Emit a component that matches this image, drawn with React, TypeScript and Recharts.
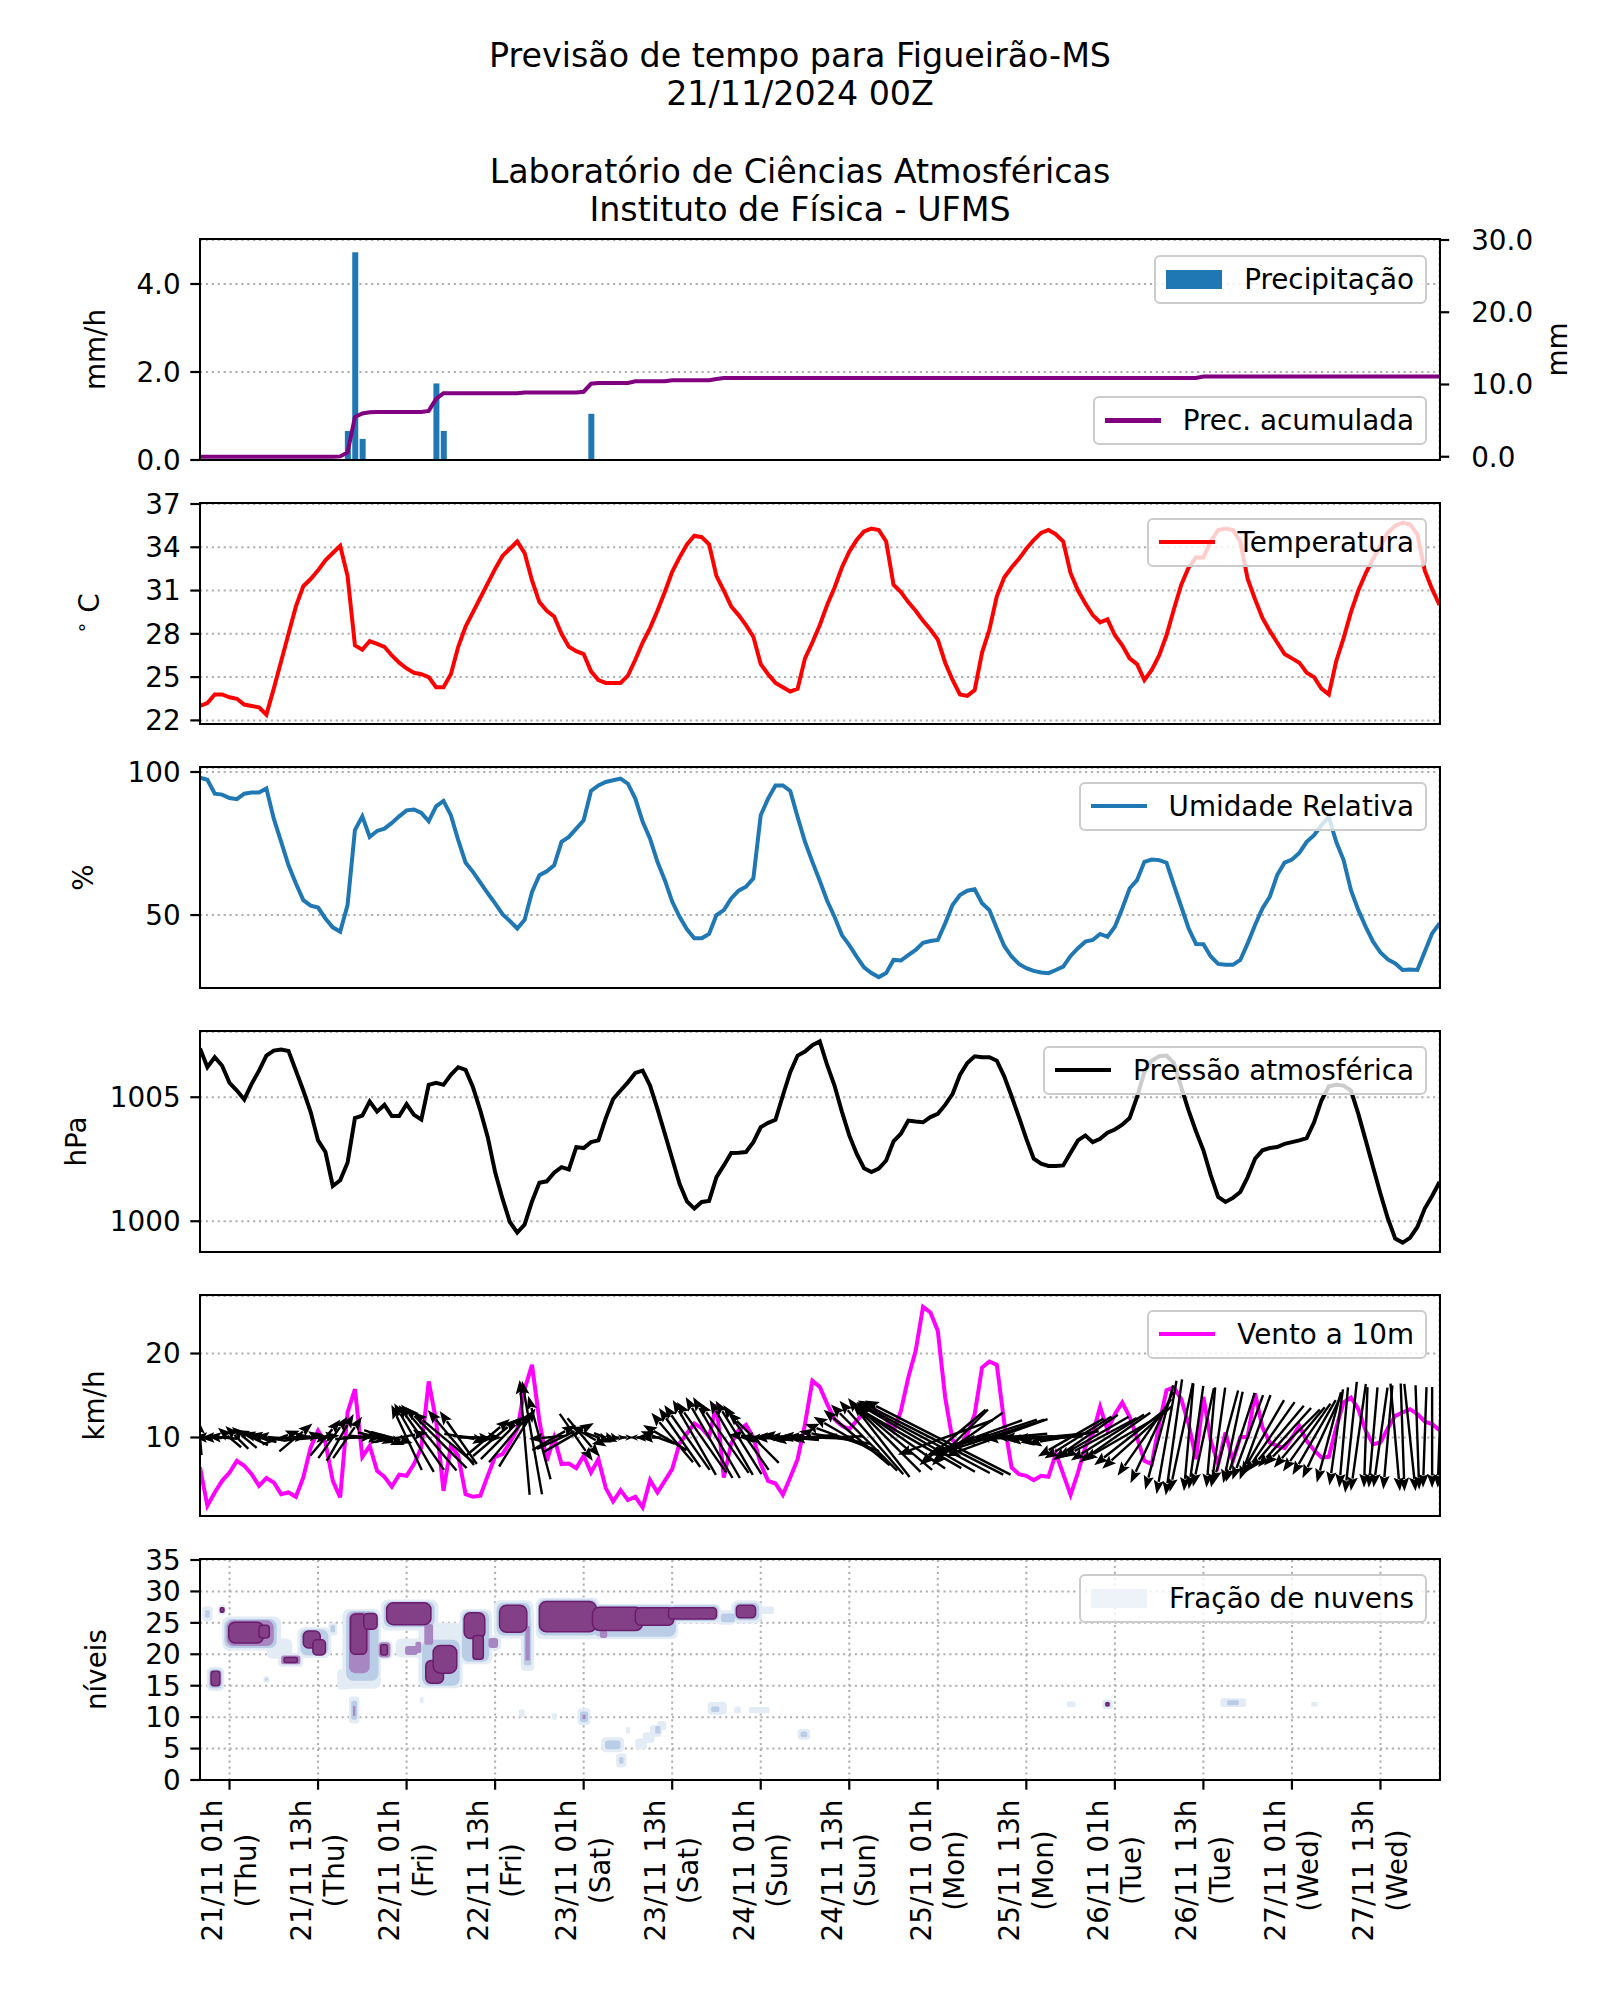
import React from 'react';
import {
  ComposedChart, Line, Bar, XAxis, YAxis, CartesianGrid, Scatter, ReferenceArea,
} from 'recharts';

// ---------------- DATA ----------------
const hours: number[] = Array.from({ length: 169 }, (_, i) => i);

const xTicks = [4, 16, 28, 40, 52, 64, 76, 88, 100, 112, 124, 136, 148, 160];
const xTickDates = [
  '21/11 01h', '21/11 13h', '22/11 01h', '22/11 13h', '23/11 01h', '23/11 13h', '24/11 01h',
  '24/11 13h', '25/11 01h', '25/11 13h', '26/11 01h', '26/11 13h', '27/11 01h', '27/11 13h',
];
const xTickDays = [
  '(Thu)', '(Thu)', '(Fri)', '(Fri)', '(Sat)', '(Sat)', '(Sun)',
  '(Sun)', '(Mon)', '(Mon)', '(Tue)', '(Tue)', '(Wed)', '(Wed)',
];

const precipHours = [20, 21, 22, 32, 33, 53];
const precipVals = [0.66, 4.72, 0.48, 1.74, 0.66, 1.05];

const acc = [
  0, 0, 0, 0, 0, 0, 0, 0, 0, 0,
  0, 0, 0, 0, 0, 0, 0, 0, 0, 0.05,
  0.6, 5.5, 6.0, 6.15, 6.2, 6.2, 6.2, 6.2, 6.2, 6.2,
  6.2, 6.35, 8.0, 8.8, 8.8, 8.8, 8.8, 8.8, 8.8, 8.8,
  8.8, 8.8, 8.8, 8.8, 8.9, 8.9, 8.9, 8.9, 8.9, 8.9,
  8.9, 8.9, 9.0, 10.1, 10.2, 10.2, 10.2, 10.2, 10.2, 10.45,
  10.45, 10.45, 10.45, 10.45, 10.6, 10.6, 10.6, 10.6, 10.6, 10.6,
  10.75, 10.9, 10.9, 10.9, 10.9, 10.9, 10.9, 10.9, 10.9, 10.9,
  10.9, 10.9, 10.9, 10.9, 10.9, 10.9, 10.9, 10.9, 10.9, 10.9,
  10.9, 10.9, 10.9, 10.9, 10.9, 10.9, 10.9, 10.9, 10.9, 10.9,
  10.9, 10.9, 10.9, 10.9, 10.9, 10.9, 10.9, 10.9, 10.9, 10.9,
  10.9, 10.9, 10.9, 10.9, 10.9, 10.9, 10.9, 10.9, 10.9, 10.9,
  10.9, 10.9, 10.9, 10.9, 10.9, 10.9, 10.9, 10.9, 10.9, 10.9,
  10.9, 10.9, 10.9, 10.9, 10.9, 10.9, 11.1, 11.1, 11.1, 11.1,
  11.1, 11.1, 11.1, 11.1, 11.1, 11.1, 11.1, 11.1, 11.1, 11.1,
  11.1, 11.1, 11.1, 11.1, 11.1, 11.1, 11.1, 11.1, 11.1, 11.1,
  11.1, 11.1, 11.1, 11.1, 11.1, 11.1, 11.1, 11.1, 11.1,
];

const temp = [
  23.0, 23.2, 23.8, 23.8, 23.6, 23.5, 23.1, 23.0, 22.9, 22.4,
  24.2, 26.1, 28.0, 29.9, 31.3, 31.8, 32.4, 33.1, 33.6, 34.1,
  32.0, 27.2, 26.9, 27.5, 27.3, 27.1, 26.5, 26.0, 25.6, 25.3,
  25.2, 25.0, 24.3, 24.3, 25.2, 27.1, 28.5, 29.5, 30.5, 31.5,
  32.5, 33.4, 33.9, 34.4, 33.6, 31.7, 30.2, 29.6, 29.2, 28.0,
  27.1, 26.8, 26.6, 25.4, 24.8, 24.6, 24.6, 24.6, 25.1, 26.2,
  27.4, 28.4, 29.6, 30.9, 32.3, 33.3, 34.2, 34.8, 34.7, 34.2,
  32.0, 31.0, 29.9, 29.3, 28.6, 27.8, 25.9, 25.2, 24.6, 24.3,
  24.0, 24.2, 26.3, 27.4, 28.6, 30.0, 31.2, 32.6, 33.7, 34.5,
  35.1, 35.3, 35.2, 34.4, 31.4, 30.9, 30.2, 29.6, 28.9, 28.3,
  27.6, 26.0, 24.8, 23.8, 23.7, 24.1, 26.7, 28.3, 30.6, 31.9,
  32.6, 33.2, 33.9, 34.5, 35.0, 35.2, 34.9, 34.4, 32.2, 31.0,
  30.1, 29.3, 28.8, 29.0, 27.9, 27.2, 26.3, 25.9, 24.8, 25.5,
  26.5, 27.9, 29.7, 31.4, 32.6, 33.3, 33.3, 34.4, 35.2, 35.3,
  35.2, 34.4, 31.8, 30.4, 29.1, 28.2, 27.4, 26.6, 26.3, 26.0,
  25.3, 25.0, 24.2, 23.8, 26.1, 27.7, 29.5, 31.0, 32.2, 33.2,
  34.1, 35.0, 35.5, 35.7, 35.6, 34.9, 32.4, 31.1, 30.0,
];

const rh = [
  98.0, 97.3, 92.4, 92.1, 90.9, 90.5, 92.4, 92.8, 92.8, 94.2,
  83.7, 75.6, 67.4, 61.0, 55.2, 53.3, 52.6, 48.8, 45.7, 44.2,
  53.5, 79.7, 84.5, 77.3, 79.4, 80.2, 82.2, 84.5, 86.6, 86.9,
  85.7, 82.8, 88.0, 89.9, 84.9, 76.2, 68.3, 65.1, 61.3, 57.6,
  54.1, 50.3, 47.9, 45.3, 48.3, 58.1, 63.9, 65.3, 67.4, 75.6,
  77.3, 80.2, 83.1, 93.4, 95.3, 96.5, 97.1, 97.7, 95.9, 90.7,
  82.6, 76.7, 68.6, 62.2, 54.7, 49.4, 45.0, 41.9, 41.9, 43.4,
  50.0, 51.7, 55.8, 58.5, 59.9, 62.8, 84.9, 90.7, 95.3, 95.3,
  93.4, 84.3, 75.6, 68.6, 62.0, 55.0, 49.4, 43.0, 39.5, 35.5,
  31.7, 29.7, 28.3, 29.7, 34.3, 34.1, 36.0, 37.8, 40.3, 40.9,
  41.3, 47.1, 53.5, 57.0, 58.5, 59.0, 54.1, 51.7, 45.3, 39.2,
  35.5, 32.9, 31.4, 30.5, 29.9, 29.7, 30.8, 32.0, 35.7, 38.4,
  40.7, 41.3, 43.4, 42.4, 45.9, 52.3, 59.3, 62.2, 68.6, 69.4,
  69.2, 68.3, 60.5, 52.9, 45.3, 39.9, 39.8, 35.5, 32.9, 32.6,
  32.6, 34.3, 40.1, 46.5, 52.3, 56.4, 64.0, 68.3, 69.4, 71.7,
  75.6, 77.9, 81.4, 84.3, 75.6, 69.2, 58.7, 51.7, 45.9, 40.7,
  36.9, 34.5, 33.1, 30.8, 31.0, 30.8, 37.2, 43.6, 47.1,
];

const pres = [
  1006.97, 1006.21, 1006.61, 1006.27, 1005.58, 1005.27, 1004.91, 1005.54, 1006.07, 1006.68,
  1006.88, 1006.92, 1006.86, 1006.07, 1005.27, 1004.40, 1003.26, 1002.79, 1001.42, 1001.65,
  1002.36, 1004.16, 1004.26, 1004.83, 1004.42, 1004.69, 1004.24, 1004.24, 1004.72, 1004.29,
  1004.10, 1005.50, 1005.58, 1005.50, 1005.90, 1006.21, 1006.10, 1005.40, 1004.46, 1003.39,
  1001.98, 1000.91, 999.97, 999.54, 999.87, 1000.80, 1001.55, 1001.61, 1001.96, 1002.18,
  1002.09, 1002.99, 1002.95, 1003.19, 1003.26, 1004.16, 1004.93, 1005.27, 1005.60, 1005.98,
  1006.07, 1005.47, 1004.53, 1003.53, 1002.52, 1001.51, 1000.80, 1000.51, 1000.78, 1000.82,
  1001.78, 1002.25, 1002.75, 1002.76, 1002.79, 1003.19, 1003.79, 1003.97, 1004.09, 1005.07,
  1006.01, 1006.68, 1006.84, 1007.10, 1007.25, 1006.30, 1005.47, 1004.42, 1003.46, 1002.72,
  1002.14, 1001.98, 1002.12, 1002.45, 1003.22, 1003.53, 1004.06, 1004.02, 1003.99, 1004.20,
  1004.33, 1004.69, 1005.13, 1005.90, 1006.38, 1006.65, 1006.61, 1006.61, 1006.47, 1005.84,
  1005.04, 1004.20, 1003.32, 1002.52, 1002.32, 1002.23, 1002.23, 1002.25, 1002.76, 1003.26,
  1003.46, 1003.19, 1003.32, 1003.57, 1003.70, 1003.89, 1004.16, 1005.00, 1006.01, 1006.47,
  1006.65, 1006.68, 1006.38, 1005.40, 1004.46, 1003.62, 1002.86, 1001.85, 1000.98, 1000.78,
  1000.94, 1001.18, 1001.78, 1002.52, 1002.86, 1002.95, 1002.99, 1003.12, 1003.19, 1003.26,
  1003.35, 1003.99, 1004.87, 1005.44, 1005.50, 1005.47, 1005.27, 1004.33, 1003.26, 1002.18,
  1001.11, 1000.11, 999.30, 999.14, 999.33, 999.77, 1000.51, 1001.02, 1001.58,
];

const wind = [
  6.43, 1.87, 3.45, 4.84, 5.83, 7.22, 6.63, 5.63, 4.25, 5.16,
  4.64, 3.25, 3.45, 2.94, 5.24, 8.81, 10.79, 9.40, 4.84, 2.86,
  12.98, 15.75, 7.70, 9.01, 6.03, 5.32, 4.13, 5.56, 5.44, 6.83,
  8.81, 16.67, 11.98, 3.65, 9.01, 7.82, 3.25, 2.94, 3.06, 5.44,
  7.70, 8.02, 9.40, 10.99, 15.75, 18.65, 11.98, 7.22, 10.00, 6.83,
  6.90, 6.35, 7.82, 5.83, 7.42, 3.97, 2.38, 3.73, 2.54, 2.94,
  1.67, 4.92, 3.45, 4.84, 6.23, 9.29, 10.48, 11.67, 11.11, 10.08,
  13.97, 5.24, 9.29, 10.87, 11.51, 10.00, 6.83, 4.84, 4.52, 3.17,
  5.24, 7.42, 11.59, 16.75, 16.03, 14.0, 12.18, 11.39, 10.99, 11.98,
  12.98, 13.89, 12.78, 12.18, 10.79, 13.17, 17.14, 20.32, 25.56, 24.88,
  22.70, 14.76, 9.68, 9.01, 10.40, 12.78, 18.33, 19.05, 18.65, 11.79,
  6.43, 5.63, 5.44, 4.92, 5.44, 5.32, 8.10, 5.63, 3.17, 5.83,
  8.89, 10.40, 13.65, 10.87, 12.78, 14.17, 12.46, 10.00, 7.22, 6.83,
  11.59, 15.63, 15.95, 14.56, 11.59, 7.42, 14.84, 9.60, 6.83, 10.60,
  7.22, 10.00, 10.08, 15.24, 11.19, 9.40, 9.01, 8.73, 10.00, 11.39,
  9.60, 8.49, 7.62, 7.70, 11.19, 14.17, 14.76, 13.37, 10.79, 9.21,
  9.40, 11.11, 12.58, 12.98, 13.37, 12.78, 11.90, 11.59, 10.87,
];

// direction the quiver arrow points (degrees, 0 = east, 90 = north)
const windDir = [
  95, 178, 182, 175, 140, 135, 140, 155, 165, 170,
  175, 20, 5, 40, 10, 0, 5, 50, 55, 60,
  55, 5, 0, 355, 345, 340, 345, 10, 115, 120,
  125, 130, 135, 140, 130, 125, 350, 355, 0, 40,
  40, 45, 50, 58, 95, 100, 105, 185, 30, 25,
  30, 305, 310, 330, 340, 340, 345, 0, 0, 180,
  180, 180, 160, 150, 130, 125, 125, 120, 125, 120,
  120, 125, 120, 122, 125, 135, 175, 180, 185, 180,
  175, 180, 185, 178, 180, 182, 170, 160, 150, 140,
  135, 131, 128, 135, 140, 145, 150, 150, 152, 153,
  153, 200, 220, 225, 215, 200, 198, 198, 200, 185,
  180, 182, 178, 180, 185, 182, 188, 190, 210, 212,
  215, 210, 208, 212, 215, 210, 218, 222, 235, 245,
  255, 260, 262, 258, 265, 262, 258, 265, 262, 255,
  258, 252, 250, 250, 240, 235, 230, 228, 225, 230,
  235, 240, 245, 255, 262, 265, 264, 262, 268, 265,
  262, 265, 275, 272, 276, 272, 268, 270, 268,
];

// quiver arrow magnitude (km/h)
const arrowMag = [
  4.9, 4.0, 4.0, 4.2, 4.2, 4.5, 4.5, 5.0, 5.0, 5.0,
  5.2, 5.5, 5.5, 6.0, 5.5, 5.5, 6.0, 6.5, 7.0, 7.5,
  7.0, 5.5, 5.5, 5.5, 5.5, 6.0, 6.0, 8.0, 10.0, 11.0,
  11.0, 12.0, 12.0, 11.0, 10.0, 9.0, 6.0, 5.5, 6.0, 8.0,
  8.0, 8.5, 9.0, 9.5, 16.0, 16.0, 12.0, 5.0, 7.0, 7.5,
  8.0, 8.0, 7.0, 5.0, 4.0, 3.5, 2.0, 1.5, 1.5, 1.5,
  2.0, 3.0, 5.0, 7.0, 9.0, 10.0, 11.0, 12.0, 12.0, 13.0,
  13.0, 12.0, 12.0, 12.0, 11.0, 10.0, 9.0, 8.0, 8.0, 8.0,
  8.0, 8.5, 9.0, 9.0, 9.5, 10.0, 10.0, 11.0, 11.5, 12.0,
  13.0, 13.5, 13.9, 13.5, 14.0, 15.0, 17.0, 19.0, 21.0, 22.7,
  22.7, 14.0, 12.0, 11.0, 12.0, 14.0, 16.0, 16.0, 15.0, 12.0,
  10.0, 9.5, 9.0, 9.0, 9.5, 9.5, 10.0, 10.0, 10.5, 11.0,
  11.0, 11.5, 11.5, 12.0, 12.0, 12.5, 12.5, 13.0, 13.0, 14.0,
  15.0, 16.0, 16.3, 15.5, 15.0, 14.5, 14.0, 14.0, 14.0, 13.5,
  13.0, 13.0, 12.5, 12.5, 12.0, 12.0, 11.5, 11.0, 11.0, 11.0,
  11.5, 12.0, 12.5, 13.0, 13.5, 14.0, 15.5, 15.0, 14.0, 14.0,
  14.0, 14.5, 15.0, 15.0, 15.0, 14.5, 14.0, 14.0, 14.0,
];

// cloud fraction contour cells: [x0, x1, level0, level1, class]
const cloudRects: number[][] = [
  [0.3, 1.7, 25.3, 27.6, 1], [0.7, 1.3, 25.8, 27.0, 2],
  [2.5, 3.5, 26.3, 27.8, 1], [2.75, 3.25, 26.7, 27.4, 4],
  [3.0, 11.0, 20.6, 26.0, 1], [3.3, 10.4, 21.0, 25.6, 2], [3.6, 10.0, 21.3, 25.4, 3], [3.9, 8.6, 21.8, 25.1, 4], [8.0, 9.4, 22.6, 24.6, 4],
  [0.9, 3.3, 14.2, 18.0, 1], [1.2, 3.0, 14.6, 17.6, 2], [1.5, 2.7, 15.0, 17.3, 4],
  [8.6, 9.4, 15.5, 16.5, 1], [8.85, 9.15, 15.8, 16.2, 2],
  [9.0, 12.5, 19.3, 22.5, 1],
  [10.6, 14.0, 18.0, 20.2, 1], [11.0, 13.6, 18.4, 19.8, 3], [11.4, 13.2, 18.7, 19.5, 4],
  [13.2, 17.8, 19.4, 24.3, 1], [13.6, 17.4, 19.8, 24.0, 2], [14.0, 16.3, 21.0, 23.7, 4], [15.3, 17.0, 19.9, 22.3, 4],
  [17.4, 18.6, 23.0, 25.0, 1], [17.7, 18.3, 23.5, 24.6, 2],
  [19.3, 24.5, 14.5, 27.2, 1], [19.8, 24.2, 15.8, 26.9, 2], [20.2, 23.0, 17.0, 26.7, 3], [20.4, 22.6, 20.0, 26.4, 4], [22.2, 24.0, 24.0, 26.5, 4],
  [20.2, 21.6, 9.0, 13.3, 1], [20.5, 21.3, 9.6, 12.6, 2], [20.75, 21.05, 10.2, 11.8, 3],
  [18.6, 20.4, 14.4, 17.6, 1],
  [23.9, 26.1, 19.2, 22.2, 1], [24.2, 25.8, 19.5, 21.9, 3], [24.5, 25.4, 19.9, 21.5, 4],
  [24.5, 32.3, 23.8, 28.7, 1], [24.9, 31.8, 24.3, 28.4, 2], [25.3, 31.3, 24.7, 28.2, 4],
  [26.5, 30.5, 19.5, 22.5, 1], [27.8, 29.5, 19.9, 21.3, 3], [29.2, 30.0, 20.2, 22.0, 3],
  [29.6, 35.6, 14.6, 25.0, 1], [30.1, 35.2, 15.0, 22.3, 2], [30.4, 31.6, 21.5, 24.8, 3], [30.6, 33.0, 15.4, 19.0, 4], [31.6, 34.8, 17.0, 21.4, 4],
  [29.8, 30.3, 12.2, 13.2, 1],
  [35.2, 39.6, 18.4, 27.2, 1], [35.5, 39.2, 18.8, 26.9, 2], [35.8, 38.6, 22.5, 26.6, 4], [37.0, 38.4, 19.2, 23.0, 4],
  [38.8, 40.8, 20.6, 23.0, 1], [39.1, 40.4, 21.0, 22.6, 3],
  [39.8, 45.2, 22.5, 28.6, 1], [40.2, 44.8, 23.0, 28.2, 2], [40.6, 44.3, 23.5, 27.8, 4],
  [43.5, 45.3, 17.4, 27.0, 1], [43.9, 44.9, 18.2, 25.5, 2], [44.1, 44.7, 19.0, 24.5, 3],
  [45.5, 54.2, 22.4, 29.0, 1], [45.8, 53.9, 23.0, 28.7, 2], [46.0, 53.7, 23.6, 28.4, 4],
  [53.0, 64.8, 22.4, 28.0, 1], [53.3, 64.5, 22.8, 27.8, 2], [53.2, 60.0, 23.8, 27.5, 4], [59.0, 64.2, 24.6, 27.4, 4], [54.2, 55.2, 22.6, 23.8, 3],
  [63.5, 70.6, 24.9, 28.0, 1], [63.8, 70.3, 25.3, 27.8, 2], [63.5, 70.0, 25.6, 27.4, 4],
  [70.0, 72.6, 24.7, 27.0, 1], [70.6, 72.5, 25.1, 26.5, 2],
  [72.0, 76.2, 24.9, 28.6, 1], [72.4, 75.8, 25.4, 28.2, 2], [72.7, 75.3, 25.8, 27.8, 4],
  [75.5, 77.8, 26.4, 27.6, 1],
  [43.2, 44.0, 10.0, 11.2, 1],
  [47.7, 48.4, 9.6, 10.6, 1],
  [51.2, 52.9, 8.7, 11.4, 1], [51.5, 52.6, 9.2, 10.9, 2], [51.85, 52.25, 9.7, 10.4, 3],
  [54.4, 57.5, 4.4, 6.8, 1], [54.9, 57.0, 4.9, 6.3, 2],
  [56.4, 57.8, 2.0, 4.2, 1], [56.8, 57.4, 2.6, 3.6, 2],
  [57.7, 58.3, 7.4, 8.4, 1],
  [59.0, 60.6, 4.9, 6.6, 1], [60.0, 61.6, 5.9, 7.6, 1], [61.0, 62.6, 6.9, 8.7, 1], [62.0, 63.2, 7.9, 9.4, 1], [61.7, 62.4, 7.4, 8.6, 2],
  [68.8, 71.4, 10.4, 12.4, 1], [69.3, 70.4, 10.8, 11.7, 2],
  [72.4, 73.3, 10.6, 11.7, 1],
  [74.4, 77.2, 10.6, 11.6, 1],
  [81.0, 82.7, 6.4, 8.1, 1], [81.4, 82.3, 6.8, 7.7, 2],
  [117.5, 118.7, 11.6, 12.5, 1],
  [122.3, 123.7, 11.3, 12.8, 1], [122.6, 123.4, 11.6, 12.5, 2], [122.8, 123.2, 11.8, 12.3, 4],
  [138.3, 141.8, 11.6, 13.0, 1], [139.2, 140.8, 11.9, 12.7, 2],
  [150.6, 151.5, 11.7, 12.4, 1],
];

// ---------------- STYLE / LAYOUT ----------------
const FONT = "'DejaVu Sans', 'Liberation Sans', sans-serif";
const FS = 27.8;
const PLOT_LEFT = 200;
const PLOT_W = 1239.5;
const PLOT_H = 220;
const TOP_PAD = 20;
const AX_H = 24;
const panelTops = [239.5, 503.5, 767.5, 1031.5, 1295.5, 1559.5];
const ARROW_SCALE = 7.2;
const cloudFill = ['', '#e3ebf5', '#b9cde6', '#a886c2', '#844087'];

const precipByHour: Record<number, number> = {};
precipHours.forEach((h, k) => { precipByHour[h] = precipVals[k]; });

const rows = hours.map((i) => ({
  i,
  temp: temp[i],
  rh: rh[i],
  pres: pres[i],
  wind: wind[i],
  acc: acc[i],
  precip: precipByHour[i] ?? null,
}));

const arrowRows = hours.map((i) => ({ i, y: 10, mag: arrowMag[i], dir: windDir[i] }));

const tickStyle = { fontSize: FS, fill: '#000', fontFamily: FONT };
const tickLineStyle = { stroke: '#000', strokeWidth: 2.2 };

const xAxisCommon: any = {
  dataKey: 'i',
  type: 'number',
  domain: [0, 168],
  ticks: xTicks,
  interval: 0,
  tickSize: 9.7,
  tickLine: tickLineStyle,
  axisLine: false,
  allowDataOverflow: true,
};

const yAxisCommon: any = {
  width: PLOT_LEFT,
  tickSize: 9.7,
  tickMargin: 9.7,
  tickLine: tickLineStyle,
  axisLine: false,
  tick: tickStyle,
  allowDataOverflow: true,
  interval: 0,
};

const gridProps: any = {
  stroke: '#b0b0b0',
  strokeWidth: 2,
  strokeDasharray: '2.2 3.7',
};

const renderArrow = (props: any) => {
  const { cx, cy, payload } = props;
  if (cx == null || cy == null) return <g />;
  const L = payload.mag * ARROW_SCALE;
  const th = (payload.dir * Math.PI) / 180;
  const ux = Math.cos(th);
  const uy = -Math.sin(th);
  const tx = cx - (ux * L) / 2;
  const ty = cy - (uy * L) / 2;
  const hx = cx + (ux * L) / 2;
  const hy = cy + (uy * L) / 2;
  const hl = Math.min(14, L * 0.75);
  const hw = Math.min(5.2, L * 0.3);
  const bx = hx - ux * hl;
  const by = hy - uy * hl;
  const px = -uy;
  const py = ux;
  return (
    <g>
      <line x1={tx} y1={ty} x2={bx + ux * 1.5} y2={by + uy * 1.5} stroke="#000" strokeWidth={2.4} />
      <polygon
        points={`${hx},${hy} ${bx + px * hw},${by + py * hw} ${bx + ux * 2.5},${by + uy * 2.5} ${bx - px * hw},${by - py * hw}`}
        fill="#000"
      />
    </g>
  );
};

const cloudShape = (p: any) => {
  const r = Math.max(0, Math.min(Math.min(p.width, p.height) * 0.3, 7));
  return (
    <rect
      x={p.x}
      y={p.y}
      width={p.width}
      height={p.height}
      rx={r}
      ry={r}
      fill={p.fill}
      stroke={p.stroke}
      strokeWidth={p.strokeWidth}
    />
  );
};

const XTickLabel = (props: any) => {
  const { x, y, payload } = props;
  const k = xTicks.indexOf(payload.value);
  if (k < 0) return <g />;
  const cyc = y + 71;
  return (
    <g>
      <text
        x={x - 16.7}
        y={cyc}
        transform={`rotate(-90, ${x - 16.7}, ${cyc})`}
        textAnchor="middle"
        dominantBaseline="central"
        fontSize={FS}
        fontFamily={FONT}
        fill="#000"
      >
        {xTickDates[k]}
      </text>
      <text
        x={x + 16.7}
        y={cyc}
        transform={`rotate(-90, ${x + 16.7}, ${cyc})`}
        textAnchor="middle"
        dominantBaseline="central"
        fontSize={FS}
        fontFamily={FONT}
        fill="#000"
      >
        {xTickDays[k]}
      </text>
    </g>
  );
};

const Frame = ({ top }: { top: number }) => (
  <div
    style={{
      position: 'absolute',
      left: PLOT_LEFT - 1.1,
      top: top - 1.1,
      width: PLOT_W + 2.2,
      height: PLOT_H + 2.2,
      border: '2.2px solid #000',
      boxSizing: 'border-box',
      pointerEvents: 'none',
    }}
  />
);

const LegendBox = ({ top, kind, color, label }: { top: number; kind: 'line' | 'patch'; color: string; label: string }) => (
  <div
    style={{
      position: 'absolute',
      right: 1600 - 1427,
      top,
      height: 49,
      display: 'flex',
      alignItems: 'center',
      padding: '0 11px 0 10px',
      background: 'rgba(255,255,255,0.8)',
      border: '2px solid #cccccc',
      borderRadius: 6,
      boxSizing: 'border-box',
      fontFamily: FONT,
      fontSize: FS,
      color: '#000',
      whiteSpace: 'nowrap',
    }}
  >
    <div
      style={{
        width: 56,
        height: kind === 'line' ? 4.2 : 19,
        background: color,
        marginRight: 22,
        flex: 'none',
      }}
    />
    <span>{label}</span>
  </div>
);

const chartWrap = (k: number, h: number): React.CSSProperties => ({
  position: 'absolute',
  left: 0,
  top: panelTops[k] - TOP_PAD,
  width: 1600,
  height: h,
});

export default function App() {
  const H = TOP_PAD + PLOT_H + AX_H;
  const margin = { top: TOP_PAD, right: 1600 - PLOT_LEFT - PLOT_W, left: 0, bottom: 0 };
  const yLabel = (x: number, y: number, content: React.ReactNode, key: string) => (
    <text
      key={key}
      x={x}
      y={y}
      transform={`rotate(-90, ${x}, ${y})`}
      textAnchor="middle"
      dominantBaseline="central"
      fontSize={FS}
      fontFamily={FONT}
      fill="#000"
    >
      {content}
    </text>
  );
  const mid = (k: number) => panelTops[k] + PLOT_H / 2;

  return (
    <div style={{ position: 'absolute', left: 0, top: 0, width: 1600, height: 2000, background: '#fff' }}>
      {/* Panel 1: precipitation */}
      <div style={chartWrap(0, H)}>
        <ComposedChart width={1600} height={H} data={rows} margin={{ ...margin, right: 0 }}>
          <CartesianGrid {...gridProps} yAxisId="left" />
          <XAxis {...xAxisCommon} tick={false} height={AX_H} />
          <YAxis {...yAxisCommon} yAxisId="left" domain={[0, 5]} ticks={[0, 2, 4]} tickFormatter={(v: number) => v.toFixed(1)} />
          <YAxis
            {...yAxisCommon}
            yAxisId="right"
            orientation="right"
            width={1600 - PLOT_LEFT - PLOT_W}
            tickMargin={22}
            domain={[-0.45, 30]}
            ticks={[0, 10, 20, 30]}
            tickFormatter={(v: number) => v.toFixed(1)}
          />
          <Bar yAxisId="left" dataKey="precip" fill="#1f77b4" barSize={6} isAnimationActive={false} />
          <Line yAxisId="right" dataKey="acc" stroke="#800080" strokeWidth={4} dot={false} type="linear" isAnimationActive={false} />
        </ComposedChart>
      </div>

      {/* Panel 2: temperature */}
      <div style={chartWrap(1, H)}>
        <ComposedChart width={1600} height={H} data={rows} margin={margin}>
          <CartesianGrid {...gridProps} />
          <XAxis {...xAxisCommon} tick={false} height={AX_H} />
          <YAxis {...yAxisCommon} domain={[21.75, 37]} ticks={[22, 25, 28, 31, 34, 37]} />
          <Line dataKey="temp" stroke="#ff0000" strokeWidth={4} dot={false} type="linear" isAnimationActive={false} />
        </ComposedChart>
      </div>

      {/* Panel 3: relative humidity */}
      <div style={chartWrap(2, H)}>
        <ComposedChart width={1600} height={H} data={rows} margin={margin}>
          <CartesianGrid {...gridProps} />
          <XAxis {...xAxisCommon} tick={false} height={AX_H} />
          <YAxis {...yAxisCommon} domain={[24.5, 101.4]} ticks={[50, 100]} />
          <Line dataKey="rh" stroke="#1f77b4" strokeWidth={4} dot={false} type="linear" isAnimationActive={false} />
        </ComposedChart>
      </div>

      {/* Panel 4: pressure */}
      <div style={chartWrap(3, H)}>
        <ComposedChart width={1600} height={H} data={rows} margin={margin}>
          <CartesianGrid {...gridProps} />
          <XAxis {...xAxisCommon} tick={false} height={AX_H} />
          <YAxis {...yAxisCommon} domain={[998.76, 1007.63]} ticks={[1000, 1005]} />
          <Line dataKey="pres" stroke="#000000" strokeWidth={4} dot={false} type="linear" isAnimationActive={false} />
        </ComposedChart>
      </div>

      {/* Panel 5: wind */}
      <div style={chartWrap(4, H)}>
        <ComposedChart width={1600} height={H} data={rows} margin={margin}>
          <CartesianGrid {...gridProps} />
          <XAxis {...xAxisCommon} tick={false} height={AX_H} />
          <YAxis {...yAxisCommon} domain={[0.65, 26.85]} ticks={[10, 20]} />
          <Line dataKey="wind" stroke="#ff00ff" strokeWidth={4} dot={false} type="linear" isAnimationActive={false} />
          <Scatter data={arrowRows} dataKey="y" shape={renderArrow} isAnimationActive={false} />
        </ComposedChart>
      </div>

      {/* Panel 6: cloud fraction */}
      <div style={chartWrap(5, TOP_PAD + PLOT_H + 230)}>
        <ComposedChart width={1600} height={TOP_PAD + PLOT_H + 230} data={rows} margin={margin}>
          <CartesianGrid {...gridProps} />
          <XAxis {...xAxisCommon} height={230} tickMargin={9.8} tick={<XTickLabel />} />
          <YAxis {...yAxisCommon} domain={[0, 35]} ticks={[0, 5, 10, 15, 20, 25, 30, 35]} />
          {[1, 2, 3, 4].map((c) =>
            cloudRects
              .filter((r) => r[4] === c)
              .map((r, j) => (
                <ReferenceArea
                  key={`c${c}-${j}`}
                  x1={r[0]}
                  x2={r[1]}
                  y1={r[2]}
                  y2={r[3]}
                  fill={cloudFill[c]}
                  fillOpacity={1}
                  stroke={c === 4 ? '#6a1c6c' : 'none'}
                  strokeWidth={c === 4 ? 1.5 : 0}
                  ifOverflow="hidden"
                  shape={cloudShape}
                />
              )),
          )}
          <Line dataKey="none" stroke="none" dot={false} isAnimationActive={false} />
        </ComposedChart>
      </div>

      {panelTops.map((t, k) => <Frame key={k} top={t} />)}

      <LegendBox top={254.5} kind="patch" color="#1f77b4" label="Precipitação" />
      <LegendBox top={396} kind="line" color="#800080" label="Prec. acumulada" />
      <LegendBox top={517.5} kind="line" color="#ff0000" label="Temperatura" />
      <LegendBox top={781.5} kind="line" color="#1f77b4" label="Umidade Relativa" />
      <LegendBox top={1045.5} kind="line" color="#000000" label="Pressão atmosférica" />
      <LegendBox top={1309.5} kind="line" color="#ff00ff" label="Vento a 10m" />
      <LegendBox top={1573.5} kind="patch" color="#eef3f9" label="Fração de nuvens" />

      <svg width={1600} height={2000} style={{ position: 'absolute', left: 0, top: 0, pointerEvents: 'none' }}>
        <g fontFamily={FONT} fill="#000" textAnchor="middle" fontSize={33.3}>
          <text x={800} y={66.5}>Previsão de tempo para Figueirão-MS</text>
          <text x={800} y={104.5}>21/11/2024 00Z</text>
          <text x={800} y={182.5}>Laboratório de Ciências Atmosféricas</text>
          <text x={800} y={220.5}>Instituto de Física - UFMS</text>
        </g>
        {yLabel(95, mid(0), 'mm/h', 'l0')}
        {yLabel(89, mid(1), <><tspan fontSize={19} dy={-8}>∘</tspan><tspan dy={8}> C</tspan></>, 'l1')}
        {yLabel(83, mid(2), '%', 'l2')}
        {yLabel(76, mid(3), 'hPa', 'l3')}
        {yLabel(94, mid(4), 'km/h', 'l4')}
        {yLabel(96, mid(5), 'níveis', 'l5')}
        {yLabel(1557, mid(0), 'mm', 'r0')}
      </svg>
    </div>
  );
}
